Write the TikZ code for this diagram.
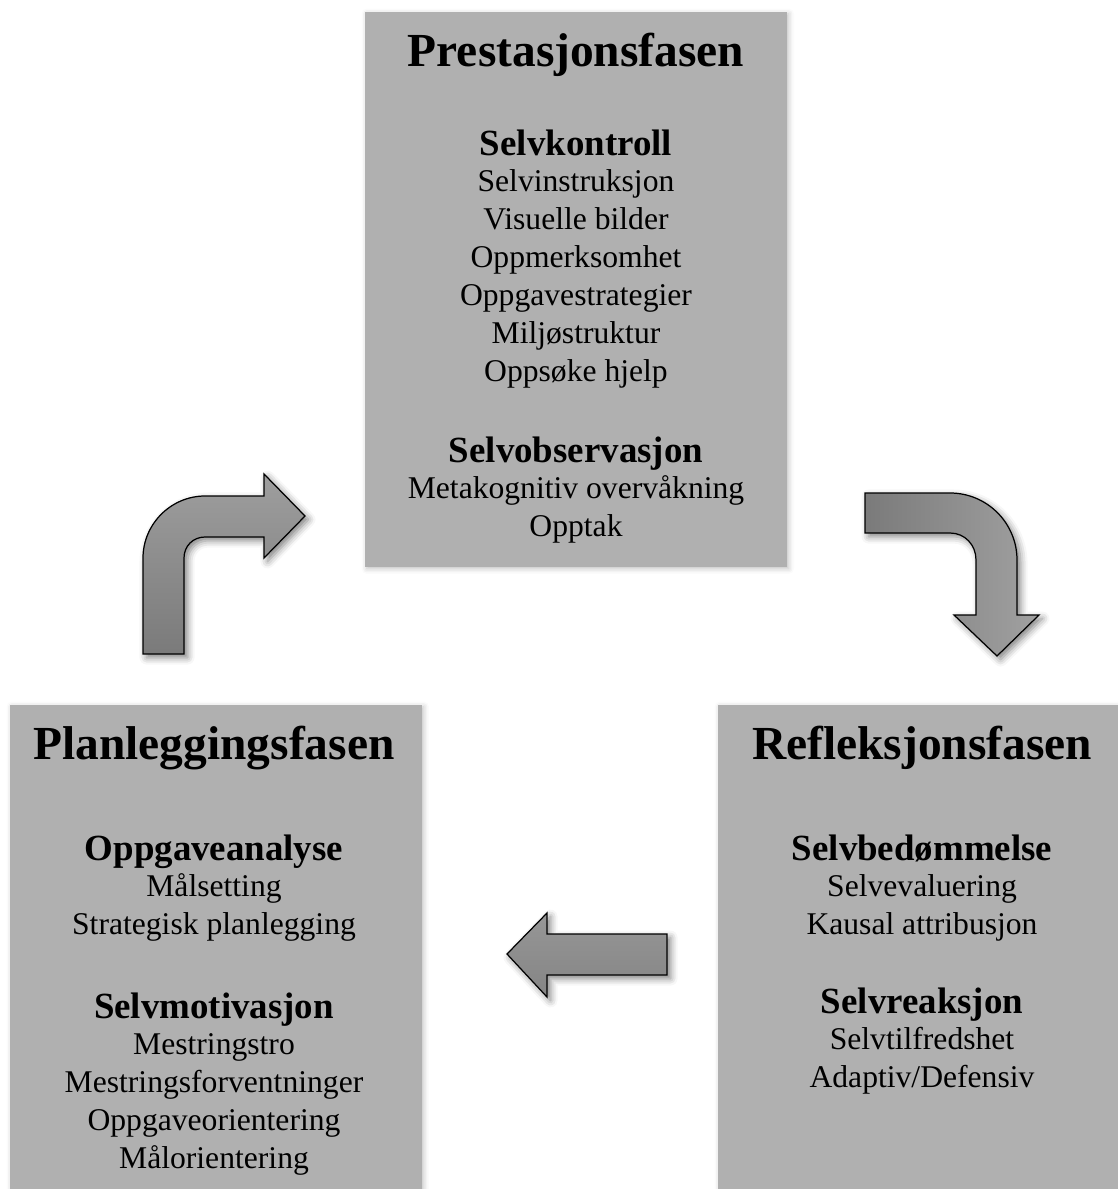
\documentclass[tikz,border=0pt]{standalone}
\usepackage{fontspec}
\setmainfont{Liberation Serif}
\usetikzlibrary{shadows.blur}
\definecolor{boksgraa}{HTML}{B0B0B0}
\tikzstyle{fase} = [rectangle, fill=boksgraa, inner sep=0pt,
    blur shadow={shadow xshift=1pt, shadow yshift=-1pt, shadow opacity=25, shadow blur radius=3pt}]
\tikzstyle{tittel} = [font=\fontsize{27}{32}\selectfont\bfseries, text height=19.5pt, text depth=6pt, inner sep=0pt]
\tikzstyle{overskrift} = [font=\fontsize{21}{25}\selectfont\bfseries, text height=15pt, text depth=4.6pt, inner sep=0pt]
\tikzstyle{punkt} = [font=\fontsize{18}{21}\selectfont, text height=13pt, text depth=4pt, inner sep=0pt]
\tikzstyle{pil} = [draw=black, line width=0.7pt, line join=miter,
    blur shadow={shadow xshift=2pt, shadow yshift=-2pt, shadow opacity=50, shadow blur radius=4pt}]

\begin{document}
\begin{tikzpicture}[x=0.02cm, y=-0.02cm, node distance=0.76cm]
  \useasboundingbox (0,0) rectangle (1117,1189);

  % boksene
  \node[fase, minimum width=8.44cm, minimum height=11.1cm] (pres) at (576,289.5) {};
  \node[fase, minimum width=8.24cm, minimum height=9.8cm] (plan) at (216,950) {};
  \node[fase, minimum width=8.04cm, minimum height=9.8cm] (refl) at (919,950) {};

  % prestasjonsfasen
  \node[tittel] (prestittel) at (576,55) {Prestasjonsfasen};
  \node[overskrift] (kontroll) at (576,146) {Selvkontroll};
  \node[punkt] (k1) [below of=kontroll] {Selvinstruksjon};
  \node[punkt] (k2) [below of=k1] {Visuelle bilder};
  \node[punkt] (k3) [below of=k2] {Oppmerksomhet};
  \node[punkt] (k4) [below of=k3] {Oppgavestrategier};
  \node[punkt] (k5) [below of=k4] {Miljøstruktur};
  \node[punkt] (k6) [below of=k5] {Oppsøke hjelp};
  \node[overskrift] (observ) at (576,453) {Selvobservasjon};
  \node[punkt] (o1) [below of=observ] {Metakognitiv overvåkning};
  \node[punkt] (o2) [below of=o1] {Opptak};

  % planleggingsfasen
  \node[tittel] (plantittel) at (214,748) {Planleggingsfasen};
  \node[overskrift] (analyse) at (214,851) {Oppgaveanalyse};
  \node[punkt] (a1) [below of=analyse] {Målsetting};
  \node[punkt] (a2) [below of=a1] {Strategisk planlegging};
  \node[overskrift] (motiv) at (214,1009) {Selvmotivasjon};
  \node[punkt] (m1) [below of=motiv] {Mestringstro};
  \node[punkt] (m2) [below of=m1] {Mestringsforventninger};
  \node[punkt] (m3) [below of=m2] {Oppgaveorientering};
  \node[punkt] (m4) [below of=m3] {Målorientering};

  % refleksjonsfasen
  \node[tittel] (refltittel) at (922,748) {Refleksjonsfasen};
  \node[overskrift] (bedom) at (922,851) {Selvbedømmelse};
  \node[punkt] (b1) [below of=bedom] {Selvevaluering};
  \node[punkt] (b2) [below of=b1] {Kausal attribusjon};
  \node[overskrift] (reak) at (922,1004) {Selvreaksjon};
  \node[punkt] (r1) [below of=reak] {Selvtilfredshet};
  \node[punkt] (r2) [below of=r1] {Adaptiv/Defensiv};

  % pilene
  \draw[pil, top color=black!38, bottom color=black!52]
    (143,654) -- (143,558) .. controls (143,524) and (171,496) .. (205,496)
    -- (264,496) -- (264,474) -- (305,516) -- (264,558) -- (264,537) -- (205,537)
    .. controls (193,537) and (184,546) .. (184,558) -- (184,654) -- cycle;
  \draw[pil, left color=black!52, right color=black!37]
    (865,493) -- (950,493) .. controls (987,493) and (1017,523) .. (1017,560)
    -- (1017,615) -- (1039,615) -- (997,656) -- (954,615) -- (976,615) -- (976,560)
    .. controls (976,545) and (965,533) .. (950,533) -- (865,533) -- cycle;
  \draw[pil, top color=black!41, bottom color=black!48]
    (667,934) -- (547,934) -- (547,913) -- (507,954) -- (547,997) -- (547,975)
    -- (667,975) -- cycle;
\end{tikzpicture}
\end{document}
